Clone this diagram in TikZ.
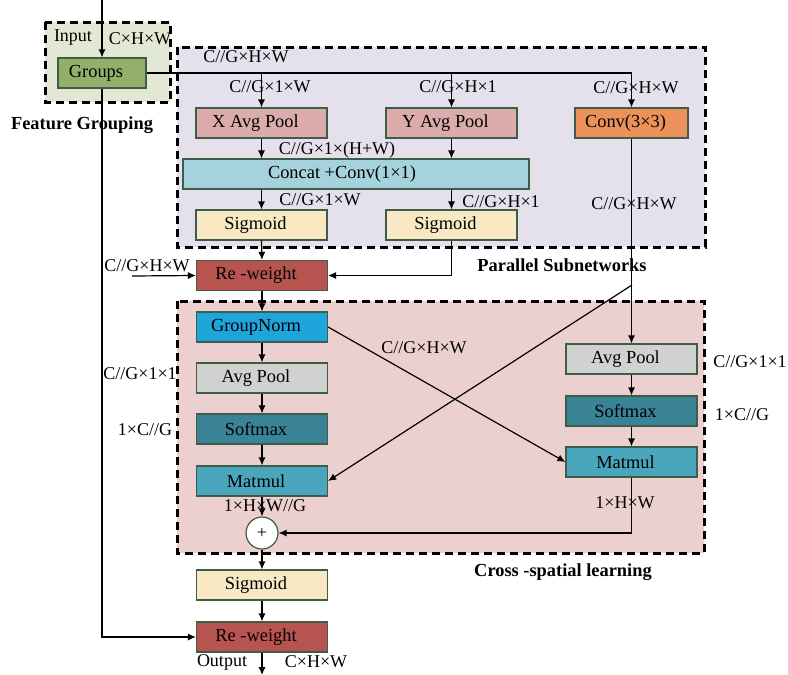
\documentclass[tikz,border=0pt]{standalone}
\usepackage{fontspec}
\setmainfont{Liberation Serif}
\usetikzlibrary{arrows.meta}

\definecolor{fgback}{RGB}{226,232,212}
\definecolor{psback}{RGB}{228,225,236}
\definecolor{csback}{RGB}{236,208,208}
\definecolor{boxline}{RGB}{62,92,72}
\definecolor{grpcol}{RGB}{146,176,106}
\definecolor{poolcol}{RGB}{220,172,172}
\definecolor{convcol}{RGB}{237,145,90}
\definecolor{catcol}{RGB}{166,210,222}
\definecolor{sigcol}{RGB}{248,232,196}
\definecolor{rwcol}{RGB}{184,84,80}
\definecolor{gncol}{RGB}{30,166,220}
\definecolor{avgcol}{RGB}{208,210,208}
\definecolor{smcol}{RGB}{58,130,150}
\definecolor{mmcol}{RGB}{74,166,188}

\begin{document}
\begin{tikzpicture}[
    x=0.5pt, y=-0.5pt,
    blockbox/.style={
        rectangle,
        minimum width=65.5pt,
        minimum height=15pt,
        inner sep=0pt,
        draw=boxline,
        line width=0.6pt,
        font=\fontsize{9.2}{11}\selectfont,
        execute at begin node={\hspace*{-6pt}}
    },
    region/.style={
        line width=1.5pt,
        dash pattern=on 4pt off 2.5pt
    },
    dimlabel/.style={font=\fontsize{9}{11}\selectfont, inner sep=0pt},
    titlelabel/.style={font=\bfseries\fontsize{9.2}{11}\selectfont, inner sep=0pt},
    arr/.style={-{Latex[length=4pt,width=3.6pt]}, line width=0.6pt},
    wire/.style={line width=0.6pt}
]
\useasboundingbox (0,0) rectangle (788,675);

% Regions
\draw[region, fill=fgback] (45,22) rectangle (170,102);
\draw[region, fill=psback] (177,47) rectangle (705,247);
\draw[region, fill=csback] (177,301) rectangle (704,553);

% Feature grouping
\node[blockbox, fill=grpcol, minimum width=44pt] (grp) at (102,73) {Groups};

% Parallel subnetworks
\node[blockbox, fill=poolcol] (xpool) at (261.5,123) {X Avg Pool};
\node[blockbox, fill=poolcol] (ypool) at (451.5,123) {Y Avg Pool};
\node[blockbox, fill=convcol, minimum width=56.5pt] (conv) at (631.5,123) {Conv(3×3)};
\node[blockbox, fill=catcol, minimum width=173pt] (concat) at (356,174) {\hspace*{-8pt}Concat +Conv(1×1)};
\node[blockbox, fill=sigcol] (sigx) at (261.5,225) {Sigmoid};
\node[blockbox, fill=sigcol] (sigy) at (451.5,225) {Sigmoid};
\node[blockbox, fill=rwcol] (rew1) at (262,275.5) {Re -weight};

% Cross-spatial learning
\node[blockbox, fill=gncol] (gnorm) at (262,327) {GroupNorm};
\node[blockbox, fill=avgcol] (apool1) at (262,378) {Avg Pool};
\node[blockbox, fill=smcol] (smax1) at (262,429) {Softmax};
\node[blockbox, fill=mmcol] (mm1) at (262,481) {Matmul};
\node[blockbox, fill=avgcol] (apool2) at (631.5,359) {Avg Pool};
\node[blockbox, fill=smcol] (smax2) at (631.5,411) {Softmax};
\node[blockbox, fill=mmcol] (mm2) at (631.5,462) {Matmul};
\node[circle, draw=boxline, fill=white, line width=0.6pt, minimum size=16pt,
      inner sep=0pt, font=\fontsize{9}{11}\selectfont] (add) at (262,533) {+};

% Output part
\node[blockbox, fill=sigcol] (sigout) at (262,585) {Sigmoid};
\node[blockbox, fill=rwcol] (rew2) at (262,637) {Re -weight};

% Free ends
\coordinate (in) at (102,0);
\coordinate (out) at (262,675);
\coordinate (rwin) at (132,276);
\coordinate (split) at (632,285);

% Titles
\node[titlelabel] at (82,125) {Feature Grouping};
\node[titlelabel] at (562,265) {Parallel Subnetworks};
\node[titlelabel] at (563,572) {Cross -spatial learning};

% Dimension labels
\node[dimlabel] at (73,38) {Input};
\node[dimlabel] at (140,39) {C×H×W};
\node[dimlabel] at (246,57) {C//G×H×W};
\node[dimlabel] at (270,87) {C//G×1×W};
\node[dimlabel] at (458,87) {C//G×H×1};
\node[dimlabel] at (636,88) {C//G×H×W};
\node[dimlabel] at (337,150) {C//G×1×(H+W)};
\node[dimlabel] at (320,200) {C//G×1×W};
\node[dimlabel] at (501,202) {C//G×H×1};
\node[dimlabel] at (634,204) {C//G×H×W};
\node[dimlabel] at (147,266) {C//G×H×W};
\node[dimlabel] at (424,348) {C//G×H×W};
\node[dimlabel] at (140,374) {C//G×1×1};
\node[dimlabel] at (145,430) {1×C//G};
\node[dimlabel] at (750,362) {C//G×1×1};
\node[dimlabel] at (742,415) {1×C//G};
\node[dimlabel] at (625,503) {1×H×W};
\node[dimlabel] at (265,506) {1×H×W//G};
\node[dimlabel] at (222,662) {Output};
\node[dimlabel] at (316,662) {C×H×W};

% Connections
\draw[arr] (in) -- (grp.north);
\draw[arr] (grp.east) -| (conv.north);
\draw[arr] (xpool.north |- grp.east) -- (xpool.north);
\draw[arr] (ypool.north |- grp.east) -- (ypool.north);
\draw[arr] (xpool.south) -- (xpool.south |- concat.north);
\draw[arr] (ypool.south) -- (ypool.south |- concat.north);
\draw[arr] (sigx.north |- concat.south) -- (sigx.north);
\draw[arr] (sigy.north |- concat.south) -- (sigy.north);
\draw[arr] (sigx.south) -- (rew1.north);
\draw[arr] (sigy.south) |- (rew1.east);
\draw[arr] (rwin) -- (rew1.west);
\draw[arr] (conv.south) -- (apool2.north);
\draw[arr] (split) -- (mm1.east);
\draw[arr] (rew1.south) -- (gnorm.north);
\draw[arr] (gnorm.south) -- (apool1.north);
\draw[arr] (apool1.south) -- (smax1.north);
\draw[arr] (smax1.south) -- (mm1.north);
\draw[arr] (gnorm.east) -- (mm2.west);
\draw[arr] (apool2.south) -- (smax2.north);
\draw[arr] (smax2.south) -- (mm2.north);
\draw[arr] (mm2.south) |- (add.east);
\draw[arr] (mm1.south) -- (add.north);
\draw[arr] (add.south) -- (sigout.north);
\draw[arr] (sigout.south) -- (rew2.north);
\draw[arr] (grp.south) |- (rew2.west);
\draw[arr] (rew2.south) -- (out);

\end{tikzpicture}
\end{document}
